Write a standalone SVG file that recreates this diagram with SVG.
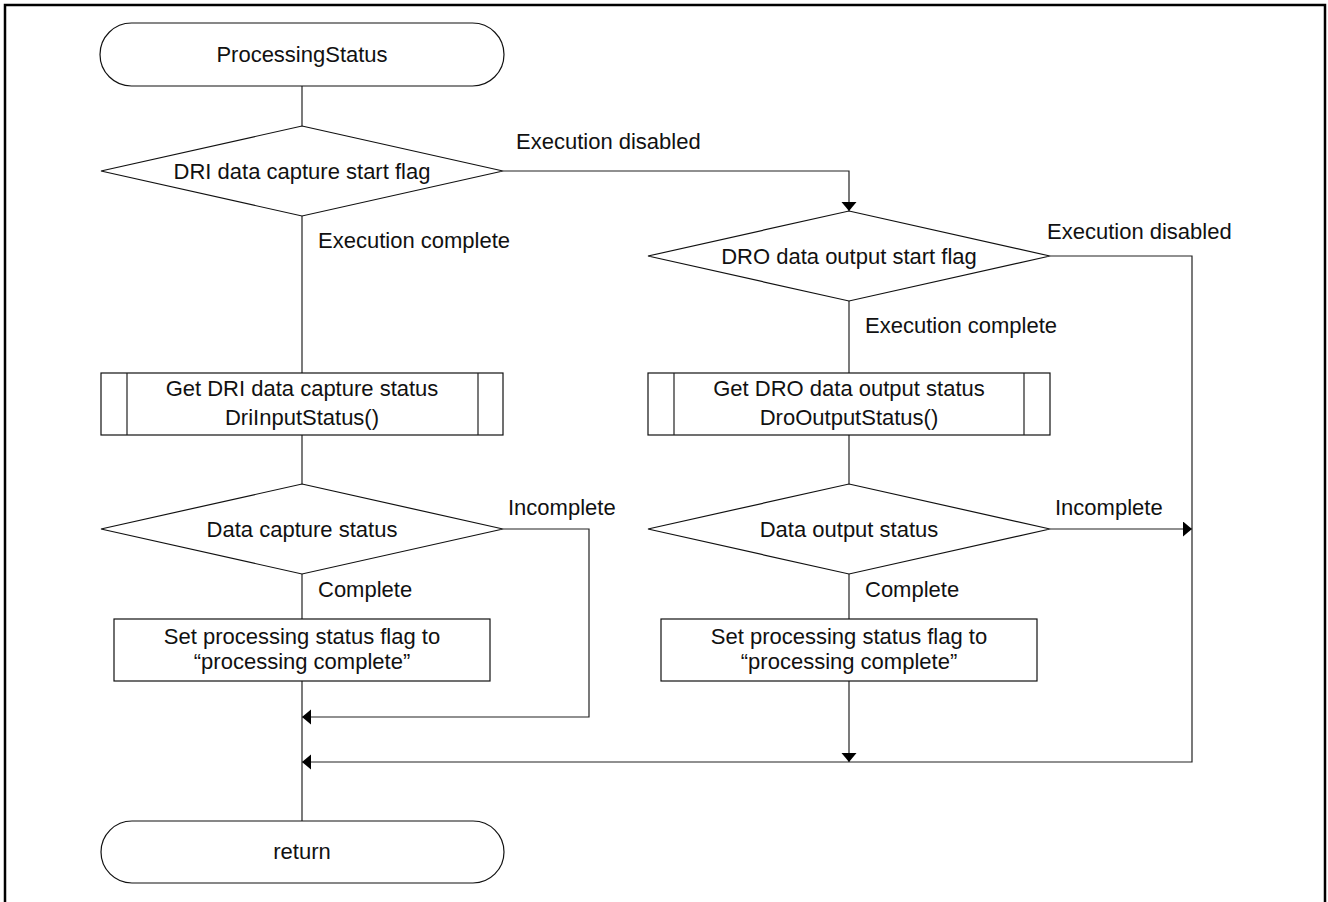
<svg xmlns="http://www.w3.org/2000/svg" width="1328" height="902" viewBox="0 0 1328 902">
<style>
.s{fill:#fff;stroke:#111;stroke-width:1.2}
.c{fill:none;stroke:#222;stroke-width:1.2}
text{font-family:"Liberation Sans",Arial,sans-serif;font-size:22px;fill:#111}
.m{text-anchor:middle}
</style>
<defs>
<marker id="ah" markerUnits="userSpaceOnUse" markerWidth="10" markerHeight="16" refX="9" refY="7.5" orient="auto">
<path d="M0,0 L9,7.5 L0,15 Z" fill="#000"/>
</marker>
</defs>
<rect width="1328" height="902" fill="#fff"/>
<path d="M5,902 V5 H1325 V902" fill="none" stroke="#000" stroke-width="2.5"/>
<g id="connectors">
<path class="c" d="M302,86 V126"/>
<path class="c" d="M503,171 H849 V211" marker-end="url(#ah)"/>
<path class="c" d="M302,216 V373"/>
<path class="c" d="M849,301 V373"/>
<path class="c" d="M302,435 V484"/>
<path class="c" d="M849,435 V484"/>
<path class="c" d="M302,574 V619"/>
<path class="c" d="M849,574 V619"/>
<path class="c" d="M503,529 H589 V717 H302" marker-end="url(#ah)"/>
<path class="c" d="M1050,529 H1192" marker-end="url(#ah)"/>
<path class="c" d="M1050,256 H1192 V762 H302" marker-end="url(#ah)"/>
<path class="c" d="M849,681 V762" marker-end="url(#ah)"/>
<path class="c" d="M302,681 V821"/>
<text x="516" y="149">Execution disabled</text>
<text x="318" y="248">Execution complete</text>
<text x="1047" y="239">Execution disabled</text>
<text x="865" y="333">Execution complete</text>
<text x="508" y="515">Incomplete</text>
<text x="1055" y="515">Incomplete</text>
<text x="318" y="597">Complete</text>
<text x="865" y="597">Complete</text>
</g>
<g id="start">
<rect class="s" x="100" y="23" width="404" height="63" rx="31.5"/>
<text class="m" x="302" y="62">ProcessingStatus</text>
</g>
<g id="dri-flag">
<polygon class="s" points="302,126 503,171 302,216 101,171"/>
<text class="m" x="302" y="179">DRI data capture start flag</text>
</g>
<g id="dro-flag">
<polygon class="s" points="849,211 1050,256 849,301 648,256"/>
<text class="m" x="849" y="264">DRO data output start flag</text>
</g>
<g id="dri-status-call">
<rect class="s" x="101" y="373" width="402" height="62"/>
<path class="c" d="M127,373 V435 M478,373 V435"/>
<text class="m" x="302" y="396">Get DRI data capture status</text>
<text class="m" x="302" y="425">DriInputStatus()</text>
</g>
<g id="dro-status-call">
<rect class="s" x="648" y="373" width="402" height="62"/>
<path class="c" d="M674,373 V435 M1024,373 V435"/>
<text class="m" x="849" y="396">Get DRO data output status</text>
<text class="m" x="849" y="425">DroOutputStatus()</text>
</g>
<g id="capture-status">
<polygon class="s" points="302,484 503,529 302,574 101,529"/>
<text class="m" x="302" y="537">Data capture status</text>
</g>
<g id="output-status">
<polygon class="s" points="849,484 1050,529 849,574 648,529"/>
<text class="m" x="849" y="537">Data output status</text>
</g>
<g id="set-flag-1">
<rect class="s" x="114" y="619" width="376" height="62"/>
<text class="m" x="302" y="644">Set processing status flag to</text>
<text class="m" x="302" y="669">“processing complete”</text>
</g>
<g id="set-flag-2">
<rect class="s" x="661" y="619" width="376" height="62"/>
<text class="m" x="849" y="644">Set processing status flag to</text>
<text class="m" x="849" y="669">“processing complete”</text>
</g>
<g id="return">
<rect class="s" x="101" y="821" width="403" height="62" rx="31"/>
<text class="m" x="302" y="859">return</text>
</g>
</svg>
